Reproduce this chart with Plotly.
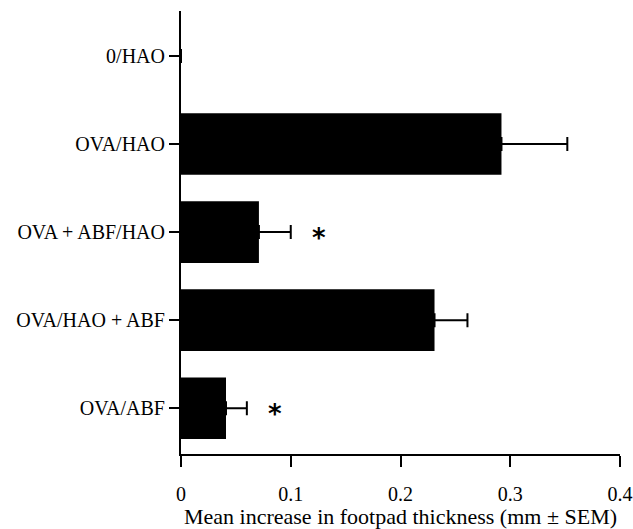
import plotly.graph_objects as go

categories = ["0/HAO", "OVA/HAO", "OVA + ABF/HAO", "OVA/HAO + ABF", "OVA/ABF"]
means = [0.0, 0.292, 0.071, 0.231, 0.041]
sems = [0.0, 0.060, 0.029, 0.030, 0.019]
significant = [False, False, True, False, True]
x_ticks = [0, 0.1, 0.2, 0.3, 0.4]
x_tick_labels = ["0", "0.1", "0.2", "0.3", "0.4"]
x_title = "Mean increase in footpad thickness (mm ± SEM)"

ypos = list(range(len(categories)))
font = dict(family="Liberation Serif", size=20, color="black")
err_plus = [s if s > 0 else None for s in sems]

fig = go.Figure()
fig.add_trace(go.Bar(
    x=means, y=ypos, orientation="h",
    marker=dict(color="black", line=dict(width=0)),
    width=0.70,
    error_x=dict(type="data", symmetric=False, array=err_plus,
                 arrayminus=[None] * len(sems), color="black",
                 thickness=2, width=7),
    showlegend=False,
))

for i, (m, s, sig) in enumerate(zip(means, sems, significant)):
    if sig:
        fig.add_annotation(x=m + s + 0.026, y=i, text="<b>*</b>", showarrow=False,
                           font=dict(family="DejaVu Sans", size=26, color="black"),
                           xanchor="center", yanchor="middle", yshift=-6)

fig.update_layout(
    width=633, height=529,
    margin=dict(l=181, r=13, t=11, b=75),
    paper_bgcolor="white", plot_bgcolor="white",
    font=font,
    xaxis=dict(range=[0, 0.4], tickvals=x_ticks, ticktext=x_tick_labels,
               showline=True, linecolor="black", linewidth=2,
               ticks="outside", ticklen=11, tickwidth=2, tickcolor="black",
               ticklabeloverflow="allow", ticklabelstandoff=10,
               showgrid=False, zeroline=False, automargin=False,
               title=dict(text=x_title, font=dict(family="Liberation Serif", size=22), standoff=18)),
    yaxis=dict(range=[4.52, -0.51], tickvals=ypos, ticktext=categories,
               showline=True, linecolor="black", linewidth=2,
               ticks="outside", ticklen=10, tickwidth=2, tickcolor="black",
               showgrid=False, zeroline=False, automargin=False),
)

fig.write_html("out.html")
